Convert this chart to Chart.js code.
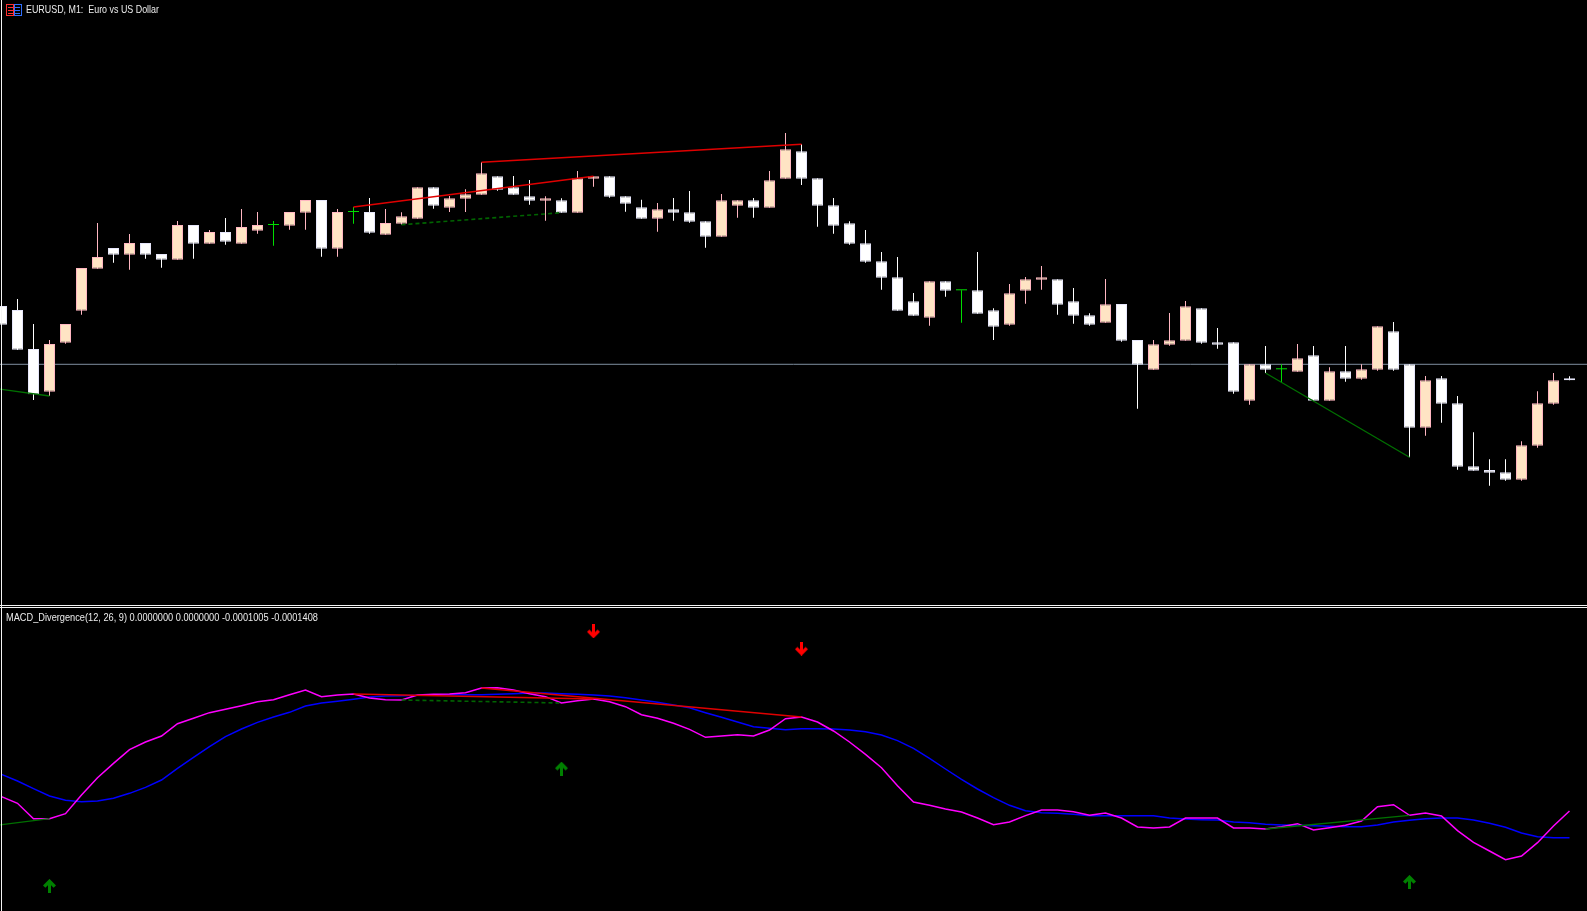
<!DOCTYPE html>
<html><head><meta charset="utf-8">
<script src="https://cdn.jsdelivr.net/npm/chart.js@4.4.1/dist/chart.umd.min.js"></script>
<style>
html,body{margin:0;padding:0;background:#000;width:1587px;height:911px;overflow:hidden;position:relative;}
canvas{position:absolute;left:0;}
#c1{top:0;}
#c2{top:608px;}
.t{position:absolute;color:#ececec;font-family:"Liberation Sans",Arial,sans-serif;font-size:10.4px;line-height:10px;white-space:pre;transform-origin:0 0;}
.vl{position:absolute;left:1px;top:0;width:1px;height:911px;background:#f4f4f4;}
.hl{position:absolute;left:0;width:1587px;height:1px;background:#f4f4f4;}
</style></head><body>
<canvas id="c1" width="1587" height="604"></canvas>
<canvas id="c2" width="1587" height="303"></canvas>
<div class="vl"></div>
<div class="hl" style="top:605px"></div>
<div class="hl" style="top:607px"></div>
<svg style="position:absolute;left:6px;top:4px" width="16" height="12" viewBox="0 0 16 12">
  <rect x="0.5" y="0.5" width="7" height="11" fill="none" stroke="#ff3030"/>
  <line x1="2" y1="3.5" x2="7" y2="3.5" stroke="#ff3030"/>
  <line x1="2" y1="6.5" x2="7" y2="6.5" stroke="#ff3030"/>
  <line x1="2" y1="9.5" x2="7" y2="9.5" stroke="#ff3030"/>
  <rect x="8.5" y="0.5" width="7" height="11" fill="none" stroke="#3070ff"/>
  <line x1="9" y1="3.5" x2="14" y2="3.5" stroke="#3070ff"/>
  <line x1="9" y1="6.5" x2="14" y2="6.5" stroke="#3070ff"/>
  <line x1="9" y1="9.5" x2="14" y2="9.5" stroke="#3070ff"/>
</svg>
<div class="t" id="title1" style="left:26px;top:5px;transform:scaleX(0.856)">EURUSD, M1:  Euro vs US Dollar</div>
<div class="t" id="title2" style="left:6px;top:613px;transform:scaleX(0.888)">MACD_Divergence(12, 26, 9) 0.0000000 0.0000000 -0.0001005 -0.0001408</div>
<script>
// ---- price data: points (0.00001) above 1.08000, one value per M1 bar ----
const BASE = 1.08000, POINT = 0.00001;
const open = [298,294,255,212.3,261.3,293.3,335.3,356,349.3,361,350,344.3,379,360.3,372,360.3,373.3,379,378.3,391.3,
404,355.3,392,392,369.3,380.3,385.3,416.7,396.3,405.3,409.3,427.7,416.7,407.7,403.3,403.7,391.3,425.3,427.7,407.7,
396.7,385.3,394.7,391.7,382.7,367.3,398.3,403.7,396.3,425.3,452.7,425.7,398.7,380.7,360.7,342.7,326.7,302.7,286.3,322.7,
313.7,313.7,293.7,279.3,313.3,324.3,324.7,302.7,288.7,281.3,300,264,234.3,259.3,263.3,295.7,261.7,261.7,203.3,239.7,
234.7,232.3,248.7,203.3,232.7,225.3,234.3,272.7,239.7,176.3,225.7,200.7,137.7,134,131.7,124.3,158.3,200.3,225.7];
const high = [301,305,280,264,280,336,381,356,370,361,350,383,379,374,386,395,392,383,392,404,
404,395,397,406,395,391.7,416.7,416.7,408,414.7,441.7,427.7,428,424,407.7,405.7,433,427.7,427.7,407.7,
404.3,401,406,413,382.7,410,403.7,406,433,471,459.7,425.7,406,382.7,374,352,347,311,322.7,322.7,
313.7,352,295.7,320,327,338,324.7,316,290.7,325,300,264,264,291,303,295.7,276,261.7,239.7,258,
239.7,260,258,236.7,258,239.7,277.7,282,239.7,228,228,208,171.7,144.7,144.7,162.7,212.7,231,227.7];
const low = [278,254,204,208,260.3,289.3,335.3,341.3,334.3,345.3,336.3,344.3,345.3,360.3,359.3,360.3,370.3,358.3,374.3,374.3,
347.3,347.3,380.3,370.3,369.3,379.3,385.3,395.3,392,392,409.3,413.3,409.3,399.3,383.3,391.3,391.3,417.3,406.3,392.3,
385.3,372.3,383.3,381.3,356.3,367.3,386.3,386.3,396.3,425.3,419,377.3,370.3,359.3,341.3,314.3,293.3,288.3,278.3,307.3,
281.3,290.3,264,278.3,300.3,314.3,289.3,280.3,278.3,281.3,262.3,195.3,234.3,258.3,263.3,260.3,255.3,210.3,199.3,231,
221.3,232.3,203.3,203.3,222.3,224.3,233.3,233.3,146.7,168.3,181.3,134.3,133.3,118.3,123.3,123.3,156.3,199.3,223.7];
const close = [279.3,254.3,209.7,260,280,336,347,349.3,361,349.3,344.3,379,360.3,372,362.3,377,379,379,392,404,
355.3,392,392,371.3,381,387.7,416.7,398.3,405.7,409.7,430.7,414.3,409.3,403.3,405.7,391.3,425.7,427.7,407.3,400.3,
385.3,394.7,391.3,382.3,367.3,403.7,403.7,396.3,423.7,454.7,425.3,398.3,378.3,360.3,342.3,326.3,293.3,288.3,322.7,313.3,
313.7,290.3,277.3,310.7,324.7,326.7,299.3,288.3,279.3,299.7,263.3,239.3,259.7,263.7,297.7,261.3,259.3,212.3,239.7,234.3,
234.7,245.7,203.3,232.7,225.3,234.7,277.7,234.3,176.3,223.7,200.3,137.3,133.3,131.3,124.3,158.7,200.7,223.7,223.7];
const priceLine = 239.7; // horizontal line level

// ---- MACD(12,26,9) in millionths (1e-6) ----
const macdMain = [-79,-89,-112,-112,-104.5,-76.5,-50.5,-29,-8.5,3,12,30.5,38.5,47,52,57.5,63.5,66.5,74,81,
71,73.5,75,69,66.5,66,73.5,74.5,75,77,84,84.5,81,75.5,71,61.5,65,67.5,63.5,56,
44,38.5,31,22,10,12,14,12,21,38,40.5,33,19.5,3,-15.5,-35.5,-62.5,-87,-92,-97.5,
-102,-111,-121,-117,-107.5,-99,-99,-101.5,-107,-103.5,-111,-124.5,-126,-124.5,-111,-111,-111,-126,-126,-127.5,
-124,-119.5,-129,-125.5,-122,-115.5,-94,-91,-107,-103.5,-108,-130,-147.5,-160.5,-173.5,-168,-148,-123,-100.5];
const macdSignal = [-45.5,-55.5,-67,-78,-84.5,-86.5,-85.5,-81.5,-74,-65,-54,-36.5,-20,-4,11,22.5,32.5,40.5,47.5,57,
61.5,64,67,70.5,72,72.5,73,73.5,74,74,74,74.5,75.5,76.5,76.5,75.5,74.5,73.5,72,69.5,
66,62.5,58.5,54.5,47,40,33,26,23.5,21.5,23,23,22.5,21,18.5,13.5,5,-6.5,-21.5,-37.5,
-53,-67.5,-80.5,-92,-100,-103,-104,-105.5,-107.5,-107.5,-107.5,-107.5,-107.5,-111,-112.5,-113.5,-114,-117,-118,-120.5,
-121.5,-122,-122.5,-123.5,-124,-124,-121.5,-117,-114.5,-112,-111,-111,-114,-119,-125,-133.5,-139,-140.5,-140.5];

// ---- divergences (bar index pairs) and signal arrows ----
const bearDivs = [[22,37],[30,50]];          // solid red
const hiddenBullDivs = [[25,35]];            // dashed green
const bullDivs = [[79,88]];                  // solid green
const offLeftLow = 216.8, offLeftMacd = -124.2; // bar -1 (left of window) for the first bullish divergence
const firstBullEnd = 3;
const downArrowBars = [37,50], downArrowVals = [169,143];
const upArrowBars = [3,35,88], upArrowVals = [-213,-37,-207];

const X_MIN = -0.09375, X_MAX = 99.09375;
const idx = open.map((_, i) => i);
const P = v => BASE + v * POINT;
const dir = i => close[i] > open[i] ? 1 : (close[i] < open[i] ? -1 : 0);
const BULL_FILL = '#ffe4c4', BULL_LINE = '#ffb6c1', BEAR_FILL = '#ffffff', BEAR_LINE = '#e6e6fa', DOJI = '#00dd00';
const bodyFill = i => dir(i) > 0 ? BULL_FILL : dir(i) < 0 ? BEAR_FILL : DOJI;
const bodyLine = i => dir(i) > 0 ? BULL_LINE : dir(i) < 0 ? BEAR_LINE : DOJI;
const wickCol = i => dir(i) > 0 ? BULL_LINE : dir(i) < 0 ? '#ffffff' : DOJI;

const hidden = {display:false};
const baseOpts = (ymin, ymax) => ({
  responsive:false, animation:false, events:[],
  layout:{padding:0, autoPadding:false},
  plugins:{legend:{display:false}, tooltip:{enabled:false}},
  scales:{
    x:{type:'linear', min:X_MIN, max:X_MAX, offset:false, display:false, grid:hidden},
    y:{type:'linear', min:ymin, max:ymax, display:false, grid:hidden}
  }
});
const seg = (pts, color, width, dash) => ({
  type:'line', data:pts, borderColor:color, borderWidth:width, borderDash:dash||[],
  pointRadius:0, fill:false, tension:0, order:-1
});

// ---- price chart ----
const priceSets = [
  seg([{x:X_MIN,y:P(priceLine)},{x:X_MAX,y:P(priceLine)}], '#7f8fa0', 1),
  {type:'bar', data: idx.map(i=>({x:i, y:[P(low[i]), P(high[i])]})), barThickness:1, grouped:false,
   backgroundColor: c=>wickCol(c.dataIndex), borderWidth:0, inflateAmount:0, order:2},
  {type:'bar', data: idx.map(i=>({x:i, y:[P(open[i]), P(close[i])]})), barThickness:11, grouped:false,
   minBarLength:1, backgroundColor: c=>bodyFill(c.dataIndex), borderColor: c=>bodyLine(c.dataIndex),
   borderWidth: c=>dir(c.dataIndex)===0?0:1, borderSkipped:false, inflateAmount:0, order:1}
];
priceSets[0].order = 3;
bearDivs.forEach(([a,b]) => priceSets.push(seg([{x:a,y:P(high[a])},{x:b,y:P(high[b])}], '#e00000', 1.6)));
hiddenBullDivs.forEach(([a,b]) => priceSets.push(seg([{x:a,y:P(low[a])},{x:b,y:P(low[b])}], '#006400', 1.6, [4,3])));
bullDivs.forEach(([a,b]) => priceSets.push(seg([{x:a,y:P(low[a])},{x:b,y:P(low[b])}], '#007000', 1.3)));
priceSets.push(seg([{x:-1,y:P(offLeftLow)},{x:firstBullEnd,y:P(low[firstBullEnd])}], '#007000', 1.3));

new Chart(document.getElementById('c1'), {
  type:'bar', data:{datasets:priceSets}, options: baseOpts(P(0), P(604))
});

// ---- MACD chart ----
function arrowImg(color, up){
  const c = document.createElement('canvas'); c.width = 13; c.height = 14;
  const g = c.getContext('2d');
  if(!up){ g.translate(0,14); g.scale(1,-1); }
  g.strokeStyle = color; g.fillStyle = color;
  g.fillRect(5, 3, 3, 11);
  g.lineWidth = 3.4; g.lineJoin = 'miter'; g.lineCap = 'butt';
  g.beginPath(); g.moveTo(1.2,7.6); g.lineTo(6.5,2.3); g.lineTo(11.8,7.6); g.stroke();
  return c;
}
const macdSets = [
  seg(idx.map(i=>({x:i,y:macdSignal[i]})), '#0000ff', 1.5),
  seg(idx.map(i=>({x:i,y:macdMain[i]})), '#ff00ff', 1.5)
];
macdSets[0].order = 5; macdSets[1].order = 4;
bearDivs.forEach(([a,b]) => macdSets.push(seg([{x:a,y:macdMain[a]},{x:b,y:macdMain[b]}], '#e00000', 1.6)));
hiddenBullDivs.forEach(([a,b]) => macdSets.push(seg([{x:a,y:macdMain[a]},{x:b,y:macdMain[b]}], '#006400', 1.6, [4,3])));
bullDivs.forEach(([a,b]) => macdSets.push(seg([{x:a,y:macdMain[a]},{x:b,y:macdMain[b]}], '#007000', 1.3)));
macdSets.push(seg([{x:-1,y:offLeftMacd},{x:firstBullEnd,y:macdMain[firstBullEnd]}], '#007000', 1.3));
macdSets.push({type:'line', showLine:false, data: downArrowBars.map((b,j)=>({x:b,y:downArrowVals[j]})),
  pointStyle: arrowImg('#ff0000', false), pointRadius:7, order:-2});
macdSets.push({type:'line', showLine:false, data: upArrowBars.map((b,j)=>({x:b,y:upArrowVals[j]})),
  pointStyle: arrowImg('#008000', true), pointRadius:7, order:-2});

new Chart(document.getElementById('c2'), {
  type:'line', data:{datasets:macdSets}, options: baseOpts(-250.5, 204)
});
</script>
</body></html>
